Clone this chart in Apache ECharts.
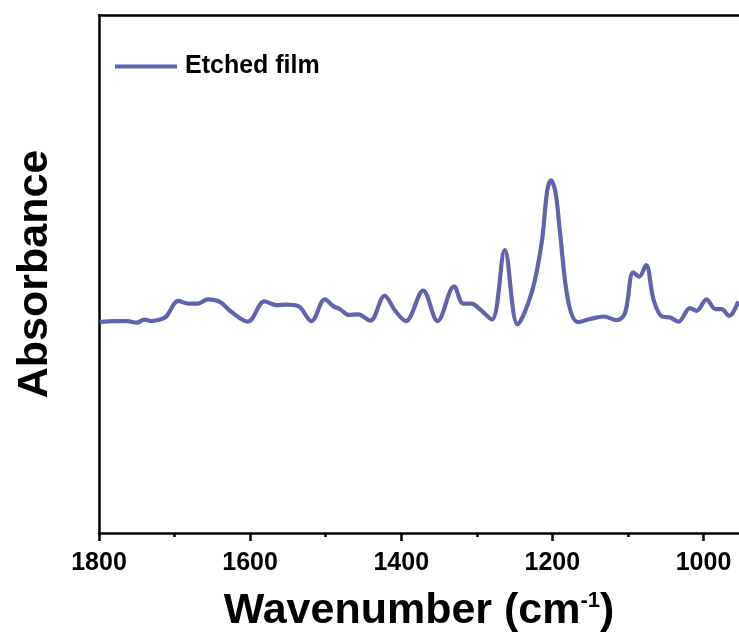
<!DOCTYPE html>
<html>
<head>
<meta charset="utf-8">
<script src="https://cdn.jsdelivr.net/npm/echarts@6/dist/echarts.min.js"></script>
<style>
  html, body { margin: 0; padding: 0; background: #fff; }
  #chart { width: 739px; height: 641px; }
</style>
</head>
<body>
<div id="chart"></div>
<script>
// wavenumber (cm-1) and absorbance (a.u.)
const wavenumber = [1799, 1779, 1762, 1750, 1740, 1731, 1717, 1711, 1695, 1682, 1669, 1656, 1640, 1625, 1603,
  1581, 1565, 1552, 1536, 1519, 1501, 1490, 1481, 1470, 1457, 1441, 1422, 1408, 1394, 1371, 1352, 1330,
  1318, 1307, 1296, 1280, 1263, 1246, 1227, 1214, 1207, 1202, 1196, 1190, 1179, 1166, 1150, 1132, 1115,
  1104, 1093, 1085, 1076, 1066, 1055, 1044, 1033, 1018, 1009, 996, 984, 976, 966, 954]
const absorbance = [0.407, 0.409, 0.409, 0.406, 0.412, 0.409, 0.413, 0.418, 0.448, 0.443, 0.443, 0.451, 0.446, 0.427, 0.408,
  0.447, 0.440, 0.441, 0.438, 0.409, 0.451, 0.438, 0.432, 0.421, 0.422, 0.410, 0.458, 0.429, 0.409, 0.468, 0.409, 0.476,
  0.443, 0.443, 0.432, 0.412, 0.546, 0.403, 0.466, 0.562, 0.659, 0.681, 0.659, 0.582, 0.447, 0.407, 0.413, 0.418, 0.411,
  0.424, 0.503, 0.495, 0.517, 0.450, 0.418, 0.416, 0.408, 0.434, 0.429, 0.451, 0.432, 0.432, 0.419, 0.447]
const majorTicks = [1800, 1600, 1400, 1200, 1000]
const minorTicks = [1700, 1500, 1300, 1100]

const font = 'Arial, "Liberation Sans", sans-serif'
const black = '#000'
const lineColor = '#6163ae'

const chart = echarts.init(document.getElementById('chart'))

const baseX = {
  type: 'value',
  min: 953,
  max: 1800,
  inverse: true,
  splitLine: { show: false },
}

chart.setOption({
  animation: false,
  grid: { left: 99, right: 0, top: 15, bottom: 108 },
  legend: {
    left: 110,
    top: 49,
    icon: 'rect',
    itemWidth: 62,
    itemHeight: 4,
    itemGap: 10,
    textStyle: { fontFamily: font, fontWeight: 'bold', fontSize: 25, color: black, padding: [0, 0, 0, 3] },
    data: ['Etched film'],
  },
  xAxis: [
    {
      ...baseX,
      position: 'bottom',
      name: '{a|Wavenumber (cm}{s|-1}{a|)}',
      nameLocation: 'middle',
      nameGap: 57,
      nameTextStyle: {
        rich: {
          a: { fontFamily: font, fontWeight: 'bold', fontSize: 43, color: black },
          s: { fontFamily: font, fontWeight: 'bold', fontSize: 22, color: black, verticalAlign: 'top', padding: [0, 0, 14, 0] },
        },
      },
      axisLine: { onZero: false, lineStyle: { color: black, width: 2.5 } },
      axisTick: { customValues: majorTicks, length: 8, lineStyle: { color: black, width: 2.5 } },
      axisLabel: { customValues: majorTicks, formatter: v => String(v), margin: 18, fontFamily: font, fontWeight: 'bold', fontSize: 25, color: black },
    },
    {
      ...baseX,
      position: 'bottom',
      axisLine: { show: false, onZero: false },
      axisTick: { customValues: minorTicks, length: 4, lineStyle: { color: black, width: 2.5 } },
      axisLabel: { show: false },
    },
    {
      ...baseX,
      position: 'top',
      axisLine: { onZero: false, lineStyle: { color: black, width: 2.5 } },
      axisTick: { show: false },
      axisLabel: { show: false },
    },
  ],
  yAxis: {
    type: 'value',
    min: 0,
    max: 1,
    name: 'Absorbance',
    nameLocation: 'middle',
    nameGap: 42,
    nameTextStyle: { fontFamily: font, fontWeight: 'bold', fontSize: 43, color: black },
    axisLine: { show: true, lineStyle: { color: black, width: 2.5 } },
    axisTick: { show: false },
    axisLabel: { show: false },
    splitLine: { show: false },
  },
  series: [
    {
      name: 'Etched film',
      type: 'line',
      xAxisIndex: 0,
      smooth: 0.35,
      symbol: 'none',
      data: wavenumber.map((w, i) => [w, absorbance[i]]),
      lineStyle: { color: lineColor, width: 4.2 },
      itemStyle: { color: lineColor },
    },
  ],
})
</script>
</body>
</html>
